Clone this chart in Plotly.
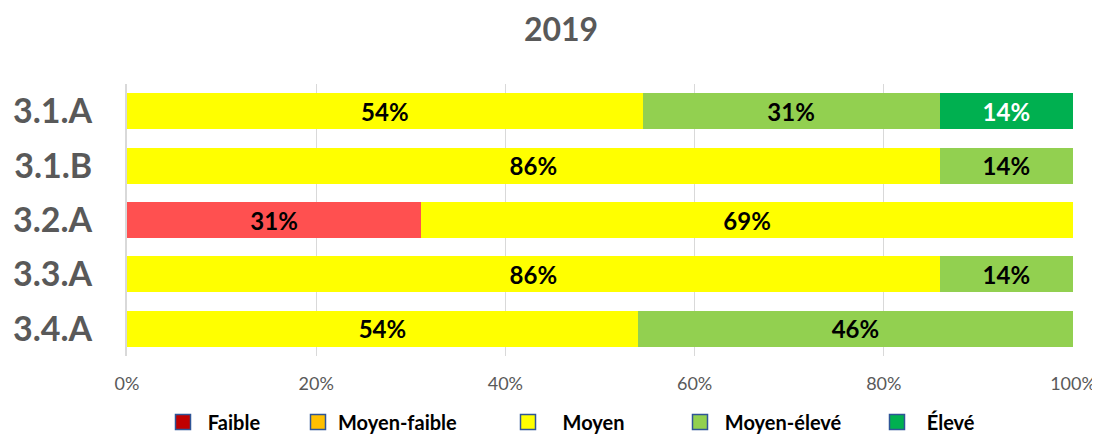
import plotly.graph_objects as go

categories = ["3.1.A", "3.1.B", "3.2.A", "3.3.A", "3.4.A"]
series_names = ["Faible", "Moyen-faible", "Moyen", "Moyen-élevé", "Élevé"]
faible = [0, 0, 31.1, 0, 0]
moyen_faible = [0, 0, 0, 0, 0]
moyen = [54.5, 85.9, 68.9, 85.9, 54.0]
moyen_eleve = [31.4, 14.1, 0, 14.1, 46.0]
eleve = [14.1, 0, 0, 0, 0]
tick_vals = [0, 20, 40, 60, 80, 100]
tick_text = ["0%", "20%", "40%", "60%", "80%", "100%"]

bar_colors = ["#FF5050", "#FFC000", "#FFFF00", "#92D050", "#00B050"]
legend_colors = ["#C00000", "#FFC000", "#FFFF00", "#92D050", "#00B050"]
text_colors = ["black", "black", "black", "black", "white"]

FONT = "Lato"
# page is offset by the browser's 8px body margin
W, H = 1092, 437
L, R, T, B = 119, 27, 76, 89
PW, PH = W - L - R, H - T - B

fig = go.Figure()
for name, vals, bc, tc in zip(series_names, [faible, moyen_faible, moyen, moyen_eleve, eleve], bar_colors, text_colors):
    labels = [f"{v:.0f}%" if v > 0 else "" for v in vals]
    fig.add_trace(go.Bar(
        y=categories, x=vals, orientation="h", name=name, showlegend=False,
        marker=dict(color=bc, line=dict(width=0)),
        text=labels, textposition="inside", insidetextanchor="middle",
        textfont=dict(family=FONT, size=24, color=tc, weight="bold"),
        hoverinfo="skip",
    ))

legend_ids = ["legend", "legend2", "legend3", "legend4", "legend5"]
marker_x = [175, 310, 520, 692, 889]          # figure px of legend symbols
name_pad = ["\u00a0", "", "\u00a0\u00a0\u00a0", "\u00a0", "\u00a0\u00a0"]
legend_layout = {}
for name, lc, lid, mx, pad in zip(series_names, legend_colors, legend_ids, marker_x, name_pad):
    fig.add_trace(go.Scatter(
        x=[None], y=[None], mode="markers", name=pad + name, legend=lid,
        marker=dict(symbol="square", size=15, color=lc, line=dict(color="#2F5597", width=1.5)),
    ))
    legend_layout[lid] = dict(
        orientation="h", x=(mx - 20 - L) / PW, xanchor="left",
        y=(T + PH - 414) / PH, yanchor="middle", bgcolor="rgba(0,0,0,0)",
        font=dict(family=FONT, size=20, color="black", weight="bold"),
    )

fig.update_layout(
    width=W, height=H,
    barmode="stack", bargap=0.34,
    plot_bgcolor="white", paper_bgcolor="white",
    margin=dict(l=L, r=R, t=T, b=B, autoexpand=False),
    title=dict(text="2019", x=553 / W, xanchor="center", y=1 - 22 / H, yanchor="middle",
               font=dict(family=FONT, size=32, color="#595959", weight="bold")),
    xaxis=dict(range=[0, 100], tickvals=tick_vals, ticktext=tick_text,
               showgrid=True, gridcolor="#D9D9D9", gridwidth=1,
               ticks="", ticklabelstandoff=15,
               tickfont=dict(family=FONT, size=18, color="#595959"),
               zeroline=False, showline=False, fixedrange=True, automargin=False),
    yaxis=dict(autorange="reversed", showline=True, linecolor="#D9D9D9", linewidth=2,
               tickfont=dict(family=FONT, size=34, color="#595959", weight="bold"),
               ticks="", ticklabelstandoff=26, showgrid=False, automargin=False),
    **legend_layout,
)

fig.write_html("out.html")
